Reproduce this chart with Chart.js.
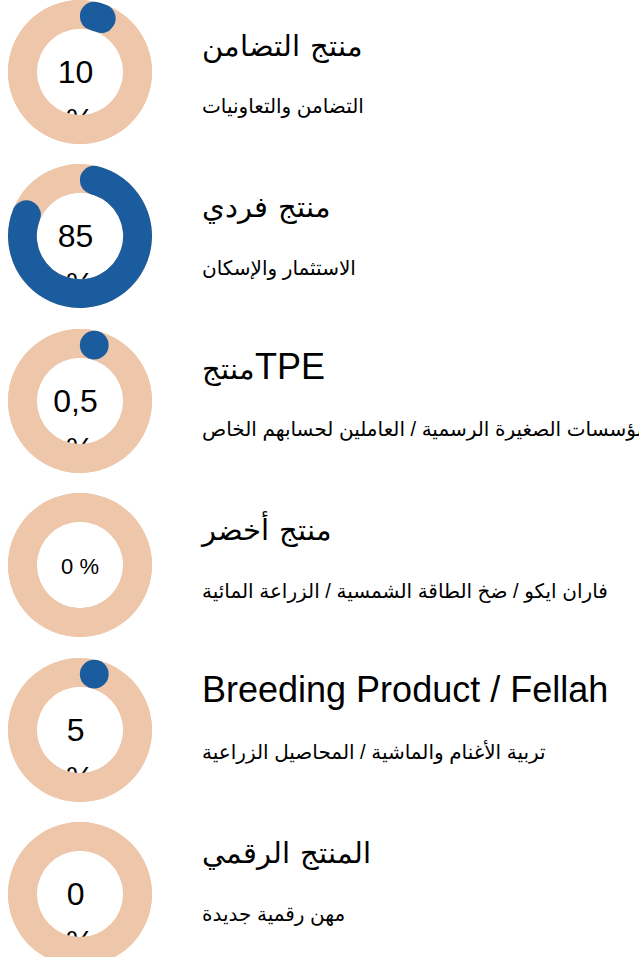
<!DOCTYPE html>
<html>
<head>
<meta charset="utf-8">
<script src="https://cdn.jsdelivr.net/npm/chart.js@4.4.1/dist/chart.umd.min.js"></script>
<style>
  @font-face {
    font-family: "TitleArabic";
    src: local("DejaVu Sans"), local("DejaVuSans");
    unicode-range: U+0600-06FF, U+FB50-FDFF, U+FE70-FEFF;
    size-adjust: 80%;
  }
  body { margin: 0; background: #fff; width: 639px; height: 957px; overflow: hidden; position: relative;
         font-family: "Liberation Sans", "DejaVu Sans", sans-serif; color: #000; }
  .ring { position: absolute; left: 8px; width: 144px; height: 144px; }
  .ring canvas { position: absolute; left: 0; top: 0; }
  .pct { position: absolute; left: 0; top: 48px; width: 144px; text-align: center;
         font-size: 32px; line-height: 48px; white-space: pre; }
  .pct.small { font-size: 22px; top: 50px; }
  .title { position: absolute; left: 202px; white-space: nowrap; font-size: 36px; line-height: 36px;
           font-family: "Liberation Sans", "TitleArabic", "DejaVu Sans", sans-serif; }
  .sub { position: absolute; left: 202px; white-space: nowrap; font-size: 20px; line-height: 20px; }
</style>
</head>
<body>
<script>
// data
const products = ['منتج التضامن', 'منتج فردي', 'منتجTPE', 'منتج أخضر', 'Breeding Product / Fellah', 'المنتج الرقمي'];
const sectors = [
  'التضامن والتعاونيات',
  'الاستثمار والإسكان',
  'المؤسسات الصغيرة الرسمية / العاملين لحسابهم الخاص',
  'فاران ايكو / ضخ الطاقة الشمسية / الزراعة المائية',
  'تربية الأغنام والماشية / المحاصيل الزراعية',
  'مهن رقمية جديدة'
];
const shares = [10, 85, 0.5, 0, 5, 0];
const shareLabels = ['10', '85', '0,5', '0', '5', '0'];

// look
const BLUE = '#1B5C9E';
const PEACH = '#EEC6A9';
const CUT = 0.6;
const compact = [false, false, false, true, false, false];
const rowGap = 164.5, firstCenter = 71.5;
const textGap = 161.5, firstTitle = 56;

// round end of the blue part is half the ring thickness, seen from the mid radius
const capAngle = (1 - CUT) / (1 + CUT);
const capShare = 100 * 2 * capAngle / (2 * Math.PI);

const ringTrack = {
  id: 'ringTrack',
  beforeDatasetsDraw(chart) {
    const arc = chart.getDatasetMeta(0).data[0];
    const { x, y, innerRadius, outerRadius } = arc.getProps(['x', 'y', 'innerRadius', 'outerRadius'], true);
    const ctx = chart.ctx;
    ctx.save();
    ctx.fillStyle = PEACH;
    ctx.beginPath();
    ctx.arc(x, y, outerRadius, 0, 2 * Math.PI);
    ctx.arc(x, y, innerRadius, 0, 2 * Math.PI, true);
    ctx.fill();
    ctx.restore();
  },
  afterDatasetsDraw(chart) {
    const v = chart.data.datasets[0].data[0];
    if (!(v > 0 && v < capShare)) return;
    const arc = chart.getDatasetMeta(0).data[0];
    const { x, y, startAngle, innerRadius, outerRadius } =
      arc.getProps(['x', 'y', 'startAngle', 'innerRadius', 'outerRadius'], true);
    const half = (outerRadius - innerRadius) / 2;
    const mid = innerRadius + half;
    const a = startAngle + half / mid;
    const ctx = chart.ctx;
    ctx.save();
    ctx.fillStyle = BLUE;
    ctx.beginPath();
    ctx.arc(x + mid * Math.cos(a), y + mid * Math.sin(a), half, 0, 2 * Math.PI);
    ctx.fill();
    ctx.restore();
  }
};

shares.forEach((v, i) => {
  const cy = firstCenter + rowGap * i;
  const box = document.createElement('div');
  box.className = 'ring';
  box.style.top = (cy - 72) + 'px';

  const pct = document.createElement('div');
  pct.className = compact[i] ? 'pct small' : 'pct';
  pct.textContent = compact[i] ? shareLabels[i] + ' %' : shareLabels[i] + '\u00a0\n%';
  box.appendChild(pct);

  const cv = document.createElement('canvas');
  cv.width = 144; cv.height = 144;
  box.appendChild(cv);
  document.body.appendChild(box);

  const tb = firstTitle + textGap * i;
  const t = document.createElement('div');
  t.className = 'title';
  t.textContent = products[i];
  t.style.top = (tb - 30.5) + 'px';
  document.body.appendChild(t);

  const s = document.createElement('div');
  s.className = 'sub';
  s.textContent = sectors[i];
  s.style.top = (tb + 57 - 17) + 'px';
  document.body.appendChild(s);

  new Chart(cv, {
    type: 'doughnut',
    data: {
      labels: [products[i], ''],
      datasets: [{
        data: [v, 100 - v],
        backgroundColor: c => c.dataIndex === 1 ? PEACH : (c.raw < capShare ? 'rgba(0,0,0,0)' : BLUE),
        borderWidth: 0,
        borderRadius: c => c.dataIndex === 0 ? 40 : 0,
        offset: 0,
        hoverOffset: 0
      }]
    },
    options: {
      responsive: false,
      animation: false,
      events: [],
      cutout: (CUT * 100) + '%',
      layout: { padding: 0 },
      plugins: { legend: { display: false }, tooltip: { enabled: false } }
    },
    plugins: [ringTrack]
  });
});
</script>
</body>
</html>
